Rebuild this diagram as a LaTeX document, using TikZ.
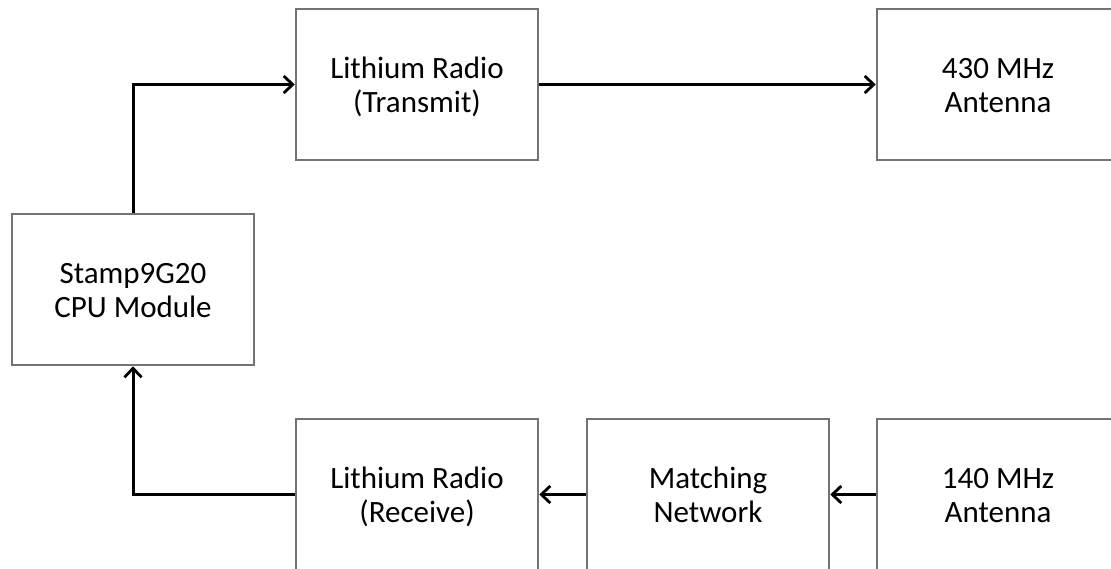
\documentclass[tikz,border=0pt]{standalone}
\usepackage{fontspec}
\setmainfont{Carlito}
\usetikzlibrary{arrows.meta}
\definecolor{boxline}{RGB}{115,115,115}
\newcommand\lowtext[1]{\raisebox{-4pt}[\height][\depth]{\begin{tabular}{@{}c@{}}#1\end{tabular}}}
\tikzset{
  blockbox/.style={draw=boxline, line width=2.5pt, fill=white, minimum width=242pt, minimum height=151pt,
    inner sep=0pt, font=\fontsize{31}{34}\selectfont},
  conn/.style={draw=black, line width=3pt, -{Straight Barb[length=9pt,width=17pt,line width=2.8pt]}},
}
\begin{document}
\begin{tikzpicture}[x=1pt,y=-1pt]
\useasboundingbox (0,0) rectangle (1111,569);
\clip (0,0) rectangle (1111,569);
\node[blockbox] (stamp) at (133,289.5) {\lowtext{Stamp9G20\\CPU Module}};
\node[blockbox] (tx) at (417,84.5) {\lowtext{Lithium Radio\\(Transmit)}};
\node[blockbox] (ant430) at (998,84.5) {\lowtext{430 MHz\\Antenna}};
\node[blockbox] (rx) at (417,494.5) {\lowtext{Lithium Radio\\(Receive)}};
\node[blockbox] (match) at (708,494.5) {\lowtext{Matching\\Network}};
\node[blockbox] (ant140) at (998,494.5) {\lowtext{140 MHz\\Antenna}};
\draw[conn] (stamp.north) |- (tx.west);
\draw[conn] (tx.east) -- (ant430.west);
\draw[conn] (ant140.west) -- (match.east);
\draw[conn] (match.west) -- (rx.east);
\draw[conn] (rx.west) -| (stamp.south);
\end{tikzpicture}
\end{document}
